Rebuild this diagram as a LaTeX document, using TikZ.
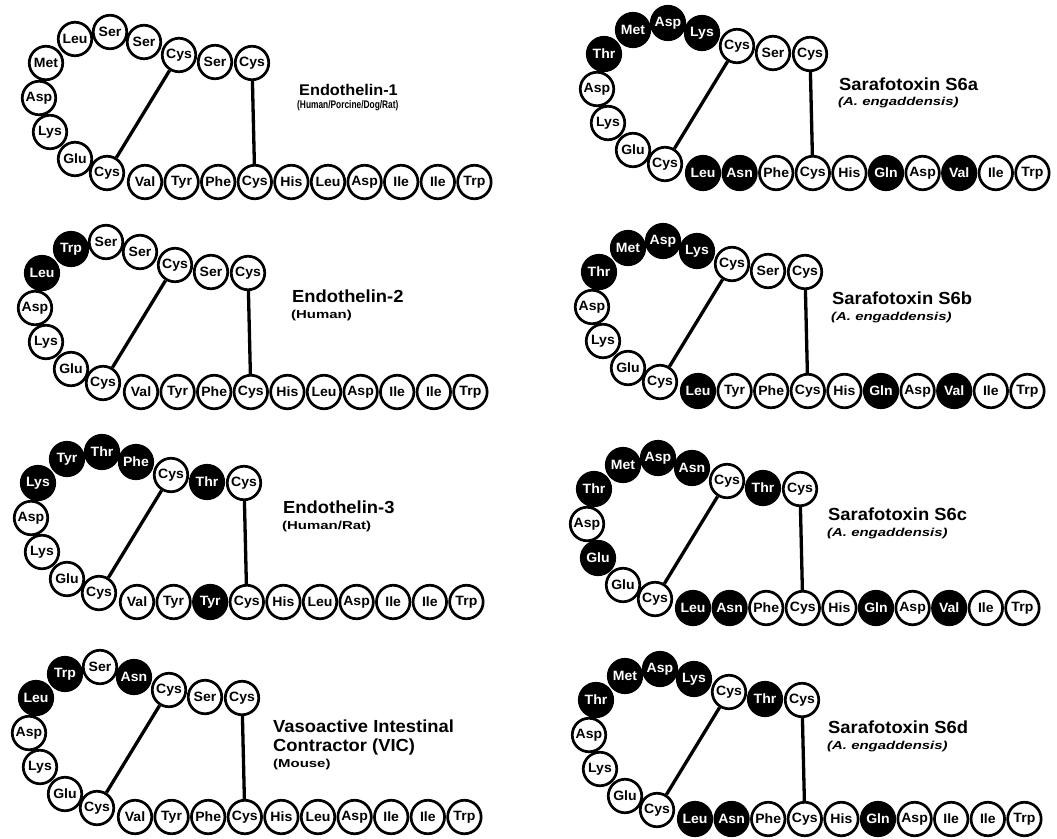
\documentclass[tikz,border=0pt]{standalone}
\usepackage{fontspec}
\setmainfont{Liberation Sans}
\newfontfamily\resfont{Liberation Sans}[FakeStretch=1.04]
\newfontfamily\titlefont{Liberation Sans}[FakeStretch=1.05]
\newfontfamily\subfont{Liberation Sans}[FakeStretch=1.3]
\newfontfamily\subsmallfont{Liberation Sans}[FakeStretch=0.76]
\def\PX{{145,108,72,37,3,-32,-61,-68,-57,-32,0,38,74.6,111.2,147.8,184.4,221,257.6,294.2,330.8,367.4}}
\def\PY{{-110,-111,-118,-131,-141,-134,-110,-75,-41,-14,0,9,9,9,9,9,9,9,9,9,9}}
\tikzset{
  res/.style={circle, draw=black, line width=2.7pt, minimum size=33.5pt, inner sep=0pt,
    font=\resfont\bfseries\fontsize{13.5}{15}\selectfont},
  resW/.style={fill=white, text=black},
  resB/.style={fill=black, text=white},
  ssbond/.style={line width=3.3pt},
  ttl/.style={anchor=base west, inner sep=0pt, font=\titlefont\bfseries\fontsize{17.5}{20}\selectfont},
  ttlsmall/.style={anchor=base west, inner sep=0pt, font=\titlefont\bfseries\fontsize{15.5}{18}\selectfont},
  sub/.style={anchor=base west, inner sep=0pt, font=\subfont\bfseries\fontsize{11.5}{13}\selectfont},
  subit/.style={anchor=base west, inner sep=0pt, font=\subfont\bfseries\itshape\fontsize{11.5}{13}\selectfont},
  subsmall/.style={anchor=base west, inner sep=0pt, font=\subsmallfont\bfseries\fontsize{11}{12}\selectfont},
}
\newcommand{\pep}[4]{%
  \foreach \lab/\st [count=\i from 0] in {#4} {
    \pgfmathsetmacro\rx{#2+\PX[\i]}
    \pgfmathsetmacro\ry{#3+\PY[\i]}
    \node[res,\st] (#1-\i) at (\rx,\ry) {\lab};
  }
  \draw[ssbond] (#1-0) -- (#1-14);
  \draw[ssbond] (#1-2) -- (#1-10);
}
\begin{document}
\begin{tikzpicture}[x=1pt,y=-1pt]
\useasboundingbox (0,0) rectangle (1057,838);
\fill[white] (0,0) rectangle (1057,838);

% Endothelin-1
\pep{a}{107}{173}{Cys/resW,Ser/resW,Cys/resW,Ser/resW,Ser/resW,Leu/resW,Met/resW,Asp/resW,Lys/resW,Glu/resW,Cys/resW,Val/resW,Tyr/resW,Phe/resW,Cys/resW,His/resW,Leu/resW,Asp/resW,Ile/resW,Ile/resW,Trp/resW}
\node[ttlsmall] (ta) at (299,95) {Endothelin-1};
\node[subsmall] (sa) at (297,108) {(Human/Porcine/Dog/Rat)};

% Sarafotoxin S6a
\pep{b}{665}{164}{Cys/resW,Ser/resW,Cys/resW,Lys/resB,Asp/resB,Met/resB,Thr/resB,Asp/resW,Lys/resW,Glu/resW,Cys/resW,Leu/resB,Asn/resB,Phe/resW,Cys/resW,His/resW,Gln/resB,Asp/resW,Val/resB,Ile/resW,Trp/resW}
\node[ttl] (tb) at (839,90) {Sarafotoxin S6a};
\node[subit] (sb) at (838,105) {(A. engaddensis)};

% Endothelin-2
\pep{c}{103}{383}{Cys/resW,Ser/resW,Cys/resW,Ser/resW,Ser/resW,Trp/resB,Leu/resB,Asp/resW,Lys/resW,Glu/resW,Cys/resW,Val/resW,Tyr/resW,Phe/resW,Cys/resW,His/resW,Leu/resW,Asp/resW,Ile/resW,Ile/resW,Trp/resW}
\node[ttl] (tc) at (292,302) {Endothelin-2};
\node[sub] (sc) at (291,318) {(Human)};

% Sarafotoxin S6b
\pep{d}{660}{382}{Cys/resW,Ser/resW,Cys/resW,Lys/resB,Asp/resB,Met/resB,Thr/resB,Asp/resW,Lys/resW,Glu/resW,Cys/resW,Leu/resB,Tyr/resW,Phe/resW,Cys/resW,His/resW,Gln/resB,Asp/resW,Val/resB,Ile/resW,Trp/resW}
\node[ttl] (td) at (832,304) {Sarafotoxin S6b};
\node[subit] (sd) at (831,320) {(A. engaddensis)};

% Endothelin-3
\pep{e}{99}{593}{Cys/resW,Thr/resB,Cys/resW,Phe/resB,Thr/resB,Tyr/resB,Lys/resB,Asp/resW,Lys/resW,Glu/resW,Cys/resW,Val/resW,Tyr/resW,Tyr/resB,Cys/resW,His/resW,Leu/resW,Asp/resW,Ile/resW,Ile/resW,Trp/resW}
\node[ttl] (te) at (283,513) {Endothelin-3};
\node[sub] (se) at (282,529) {(Human/Rat)};

% Sarafotoxin S6c
\pep{f}{655}{599}{Cys/resW,Thr/resB,Cys/resW,Asn/resB,Asp/resB,Met/resB,Thr/resB,Asp/resW,Glu/resB,Glu/resW,Cys/resW,Leu/resB,Asn/resB,Phe/resW,Cys/resW,His/resW,Gln/resB,Asp/resW,Val/resB,Ile/resW,Trp/resW}
\node[ttl] (tf) at (828,520) {Sarafotoxin S6c};
\node[subit] (sf) at (827,536) {(A. engaddensis)};

% VIC
\pep{g}{97}{808}{Cys/resW,Ser/resW,Cys/resW,Asn/resB,Ser/resW,Trp/resB,Leu/resB,Asp/resW,Lys/resW,Glu/resW,Cys/resW,Val/resW,Tyr/resW,Phe/resW,Cys/resW,His/resW,Leu/resW,Asp/resW,Ile/resW,Ile/resW,Trp/resW}
\node[ttl] (tg1) at (273,732) {Vasoactive Intestinal};
\node[ttl] (tg2) at (273,751) {Contractor (VIC)};
\node[sub] (sg) at (273,767) {(Mouse)};

% Sarafotoxin S6d
\pep{h}{657}{810}{Cys/resW,Thr/resB,Cys/resW,Lys/resB,Asp/resB,Met/resB,Thr/resB,Asp/resW,Lys/resW,Glu/resW,Cys/resW,Leu/resB,Asn/resB,Phe/resW,Cys/resW,His/resW,Gln/resB,Asp/resW,Ile/resW,Ile/resW,Trp/resW}
\node[ttl] (th) at (828,733) {Sarafotoxin S6d};
\node[subit] (sh) at (827,749) {(A. engaddensis)};
\end{tikzpicture}
\end{document}
